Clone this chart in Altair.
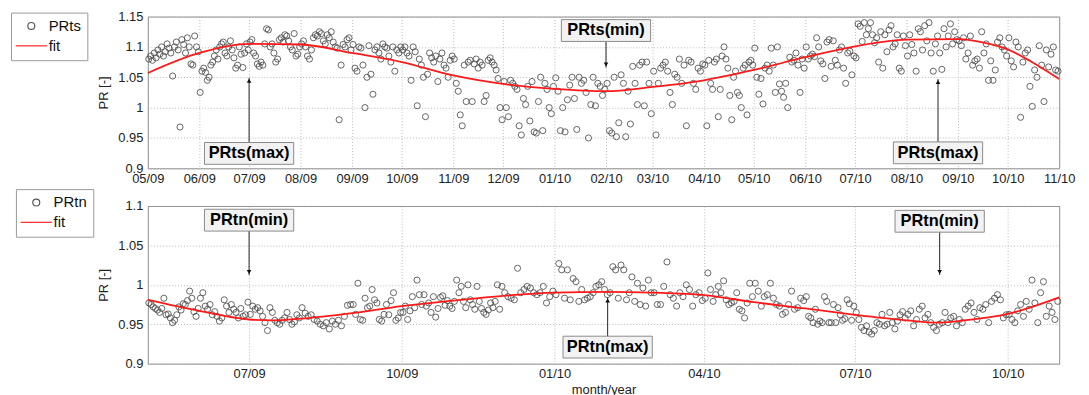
import altair as alt
import pandas as pd

months = ["2009-05", "2009-06", "2009-07", "2009-08", "2009-09", "2009-10",
          "2009-11", "2009-12", "2010-01", "2010-02", "2010-03", "2010-04",
          "2010-05", "2010-06", "2010-07", "2010-08", "2010-09", "2010-10"]

# PRts values read month by month (in the order they appear left to right)
prts = [
    [1.08, 1.085, 1.078, 1.09, 1.082, 1.095, 1.088, 1.10, 1.085, 1.092, 1.105, 1.098, 1.09, 1.052,
     1.10, 1.108, 1.095, 0.968, 1.112, 1.104, 1.09, 1.115, 1.10, 1.072, 1.07, 1.118, 1.10, 1.092],
    [1.025, 1.06, 1.065, 1.058, 1.045, 1.05, 1.07, 1.075, 1.085, 1.095, 1.08, 1.10, 1.105, 1.108,
     1.09, 1.085, 1.10, 1.11, 1.095, 1.082, 1.065, 1.07, 1.10, 1.088, 1.066, 1.09, 1.105, 1.095],
    [1.108, 1.112, 1.09, 1.085, 1.072, 1.068, 1.075, 1.07, 1.105, 1.13, 1.128, 1.10, 1.105, 1.09,
     1.075, 1.08, 1.112, 1.115, 1.108, 1.12, 1.118, 1.11, 1.10, 1.095, 1.122, 1.085, 1.088, 1.10],
    [1.105, 1.11, 1.10, 1.085, 1.08, 1.095, 1.115, 1.12, 1.118, 1.125, 1.122, 1.11, 1.105, 1.12,
     1.115, 1.125, 1.108, 1.10, 1.098, 0.98, 1.07, 1.104, 1.10, 1.112, 1.115, 1.095],
    [1.104, 1.065, 1.06, 1.10, 1.098, 1.07, 1.0, 1.05, 1.102, 1.055, 1.022, 1.095, 1.10, 1.09,
     1.08, 1.105, 1.10, 1.098, 1.085, 1.075, 1.10, 1.06, 1.095, 1.09, 1.10],
    [1.095, 1.10, 1.09, 1.085, 1.045, 1.10, 1.092, 1.003, 1.08, 1.07, 1.05, 0.985, 1.055, 1.09,
     1.082, 1.075, 1.085, 1.043, 1.08, 1.09, 1.07, 1.065, 1.05, 1.078, 1.085],
    [1.08, 1.04, 1.027, 0.988, 0.97, 1.07, 1.01, 1.075, 1.078, 1.01, 1.072, 1.08, 1.065, 1.075,
     1.07, 1.01, 1.02, 1.078, 1.082, 1.075, 1.07, 1.062, 1.048, 1.0, 0.98],
    [1.043, 1.0, 0.985, 1.045, 1.04, 1.035, 1.03, 0.97, 0.955, 1.015, 1.005, 1.035, 0.978, 1.043,
     0.96, 0.958, 1.01, 1.05, 0.962, 1.04, 1.03, 1.0, 0.99, 1.035],
    [1.049, 1.027, 0.962, 1.0, 0.96, 1.013, 1.037, 1.05, 1.015, 0.964, 1.05, 1.04, 1.045, 1.025,
     0.95, 1.005, 1.05, 1.003, 1.04, 1.035, 1.02, 1.03],
    [1.04, 0.962, 0.958, 1.05, 0.952, 0.975, 1.054, 1.04, 0.952, 1.027, 0.973, 1.068, 1.04, 1.005,
     1.07, 1.075, 1.003, 1.075, 1.04, 0.99],
    [1.06, 0.955, 1.04, 1.065, 1.07, 1.075, 1.06, 1.025, 1.005, 1.055, 1.05, 1.08, 1.04, 1.07,
     0.97, 1.078, 1.075, 1.04, 1.03, 1.065, 1.06, 1.072],
    [1.07, 0.97, 1.078, 1.04, 1.03, 1.075, 1.08, 0.985, 1.03, 1.085, 1.10, 1.08, 1.065, 1.02,
     0.98, 1.05, 1.06, 1.025, 1.02, 1.0, 1.065, 1.07, 0.988, 1.075, 1.078, 1.07],
    [1.098, 1.05, 1.022, 1.048, 1.006, 1.065, 1.07, 1.06, 1.098, 1.07, 1.025, 1.10, 1.039, 1.027,
     1.017, 1.04, 1.0, 1.083, 1.075, 1.078, 1.09, 1.07, 1.025, 1.08, 1.065],
    [1.10, 1.08, 1.085, 1.088, 1.084, 1.115, 1.10, 1.077, 1.072, 1.048, 1.108, 1.112, 1.068, 1.11,
     1.078, 1.07, 1.095, 1.10, 1.065, 1.04, 1.09, 1.093, 1.054, 1.085],
    [1.082, 1.138, 1.134, 1.109, 1.14, 1.12, 1.13, 1.14, 1.12, 1.107, 1.115, 1.075, 1.125, 1.065,
     1.12, 1.092, 1.128, 1.135, 1.10, 1.105, 1.12, 1.065, 1.06, 1.118, 1.102],
    [1.085, 1.12, 1.104, 1.09, 1.06, 1.13, 1.125, 1.095, 1.135, 1.11, 1.14, 1.09, 1.06, 1.105,
     1.118, 1.09, 1.063, 1.13, 1.10, 1.118, 1.138, 1.105, 1.125, 1.112],
    [1.11, 1.102, 1.115, 1.08, 1.09, 1.118, 1.07, 1.077, 1.08, 1.065, 1.125, 1.09, 1.105, 1.045,
     1.077, 1.045, 1.062, 1.108, 1.115, 1.10, 1.095, 1.085],
    [1.115, 1.077, 1.067, 1.108, 1.10, 0.984, 1.075, 1.09, 1.095, 1.035, 1.002, 1.062, 1.05, 1.102,
     1.07, 1.01, 1.095, 1.067, 1.088, 1.10, 1.062, 1.06],
]

# PRtn values read month by month
prtn = [
    [0.977, 0.975, 0.972, 0.97, 0.968, 0.965, 0.97, 0.983, 0.962, 0.963, 0.958, 0.952, 0.955, 0.962,
     0.972, 0.968, 0.976, 0.975, 0.98, 0.992, 0.983, 0.966, 0.96, 0.97],
    [0.983, 0.99, 0.973, 0.969, 0.975, 0.962, 0.966, 0.96, 0.954, 0.958, 0.981, 0.973, 0.965, 0.975,
     0.969, 0.965, 0.958, 0.97, 0.96, 0.962, 0.978],
    [0.9625, 0.973, 0.969, 0.971, 0.967, 0.96, 0.952, 0.942, 0.971, 0.965, 0.955, 0.952, 0.95, 0.955,
     0.958, 0.965, 0.956, 0.95, 0.953, 0.962, 0.958],
    [0.971, 0.964, 0.96, 0.962, 0.956, 0.954, 0.95, 0.948, 0.952, 0.944, 0.954, 0.95, 0.955, 0.948,
     0.96, 0.974, 0.975],
    [0.975, 0.9625, 1.002, 0.956, 0.955, 0.983, 0.971, 0.973, 0.994, 0.981, 0.977, 0.956, 0.954, 0.9625,
     0.975, 0.962, 0.98, 0.99, 0.955, 0.958, 0.965],
    [0.965, 0.973, 0.956, 0.967, 0.985, 0.971, 1.006, 0.9875, 0.975, 0.9875, 0.973, 0.977, 0.965, 0.985,
     0.959, 0.97, 0.984, 0.986, 0.974, 0.98, 0.973, 0.97],
    [0.979, 1.006, 0.99, 0.998, 0.979, 0.971, 1.0, 0.981, 0.975, 0.969, 0.998, 0.979, 0.97, 0.965,
     0.9625, 0.968, 0.977, 0.971, 0.979, 1.0, 0.969, 0.998],
    [0.99, 0.985, 0.983, 0.981, 1.021, 0.99, 0.994, 0.998, 0.996, 0.99, 0.9875, 0.99, 0.998, 0.977,
     0.985, 0.992],
    [0.9875, 1.027, 1.019, 0.983, 1.019, 0.981, 1.008, 1.004, 0.979, 0.994, 0.981, 0.983, 0.985, 0.99,
     0.998, 1.0, 1.004, 0.994],
    [0.9875, 0.99, 1.023, 1.019, 0.983, 1.025, 1.019, 0.981, 0.99, 1.01, 0.979, 1.002, 0.975, 0.996,
     0.973, 1.006, 0.99],
    [0.99, 0.975, 0.975, 0.998, 1.029, 0.9875, 0.983, 0.973, 0.99, 0.985, 1.0, 0.994, 0.973, 0.9875,
     0.99, 0.98],
    [0.983, 1.015, 0.994, 0.979, 0.9875, 0.998, 0.99, 1.005, 0.981, 0.975, 0.977, 0.979, 0.99, 0.969,
     0.967, 0.958, 0.977, 1.002, 0.985],
    [1.002, 0.992, 0.973, 0.985, 0.9875, 1.002, 0.983, 0.975, 0.973, 0.9625, 0.965, 0.975, 0.992, 0.969,
     0.971, 0.983, 0.98],
    [0.985, 0.96, 0.958, 0.952, 0.969, 0.95, 0.954, 0.952, 0.985, 0.979, 0.952, 0.952, 0.975, 0.952,
     0.971, 0.962, 0.955, 0.957, 0.981, 0.976, 0.955, 0.973],
    [0.965, 0.956, 0.946, 0.942, 0.948, 0.94, 0.9375, 0.942, 0.952, 0.95, 0.9625, 0.948, 0.95, 0.965,
     0.952, 0.944, 0.954, 0.962, 0.966, 0.958],
    [0.9625, 0.967, 0.948, 0.956, 0.969, 0.973, 0.958, 0.9625, 0.952, 0.946, 0.942, 0.95, 0.952, 0.965,
     0.952, 0.958, 0.96, 0.948],
    [0.956, 0.952, 0.969, 0.973, 0.977, 0.965, 0.956, 0.971, 0.969, 0.975, 0.952, 0.979, 0.983, 0.9875,
     0.981, 0.958, 0.962],
    [0.9625, 0.956, 0.952, 0.967, 0.975, 0.96, 0.979, 0.969, 1.006, 0.977, 0.952, 0.99, 1.004, 0.96,
     0.973, 0.965, 0.956, 0.979],
]

ts_fit_dates = ["2009-05-01", "2009-06-01", "2009-07-01", "2009-08-01", "2009-09-01", "2009-10-01",
                "2009-11-01", "2009-12-01", "2010-01-01", "2010-02-01", "2010-03-01", "2010-04-01",
                "2010-05-01", "2010-06-01", "2010-07-01", "2010-08-01", "2010-09-01", "2010-09-20",
                "2010-10-01", "2010-10-15", "2010-11-01"]
ts_fit = [1.057, 1.090, 1.105, 1.104, 1.090, 1.075, 1.053, 1.039, 1.031, 1.027, 1.034, 1.045,
          1.062, 1.083, 1.101, 1.112, 1.113, 1.105, 1.096, 1.076, 1.047]

tn_fit_dates = ["2009-05-01", "2009-06-01", "2009-07-01", "2009-07-15", "2009-08-01", "2009-09-01",
                "2009-10-01", "2009-11-01", "2009-12-01", "2010-01-01", "2010-02-01", "2010-03-01",
                "2010-04-01", "2010-05-01", "2010-06-01", "2010-07-01", "2010-08-01", "2010-08-20",
                "2010-09-01", "2010-10-01", "2010-11-01"]
tn_fit = [0.981, 0.967, 0.956, 0.955, 0.957, 0.964, 0.973, 0.980, 0.986, 0.990, 0.991, 0.990,
          0.987, 0.978, 0.970, 0.962, 0.955, 0.952, 0.954, 0.963, 0.984]

# annotations: anchor date, label, box centre value, arrow tip value, direction
ts_ann_dates = ["2009-07-01", "2010-02-01", "2010-08-20"]
ts_ann_labels = ["PRts(max)", "PRts(min)", "PRts(max)"]
ts_ann_box = [0.9245, 1.127, 0.9255]
ts_ann_tip = [1.049, 1.066, 1.047]
ts_ann_dir = ["up", "down", "up"]

tn_ann_dates = ["2009-07-01", "2010-02-02", "2010-08-21"]
tn_ann_labels = ["PRtn(min)", "PRtn(max)", "PRtn(min)"]
tn_ann_box = [1.082, 0.921, 1.0806]
tn_ann_tip = [1.0125, 0.984, 1.0125]
tn_ann_dir = ["down", "up", "down"]

top_xticks = months + ["2010-11"]
bottom_xticks = ["2009-07", "2009-10", "2010-01", "2010-04", "2010-07", "2010-10"]
top_yticks = [0.9, 0.95, 1.0, 1.05, 1.1, 1.15]
bottom_yticks = [0.9, 0.95, 1.0, 1.05, 1.1]

FONT = "Liberation Sans"
PT_COLOR = "#4d4d4d"
FIT_COLOR = "#ff1a1a"
LINE_PATH = "M-4.5,0L4.5,0"


def points_frame(vals_by_month, series):
    rows = []
    for m, vals in zip(months, vals_by_month):
        start = pd.Timestamp(m + "-01")
        nd = start.days_in_month
        n = len(vals)
        for i, v in enumerate(vals):
            rows.append({"date": start + pd.Timedelta(days=(i + 0.5) * nd / n), "PR": v, "series": series})
    return pd.DataFrame(rows)


def dt(s):
    y, m = s.split("-")[:2]
    return alt.DateTime(year=int(y), month=int(m), date=1)


def panel(pts_df, fit_dates, fit_vals, name, ydom, yticks, xticks, height,
          ann, legx, legy, xtitle):
    fit_df = pd.DataFrame({"date": pd.to_datetime(fit_dates), "PR": fit_vals, "series": "fit"})
    ann_df = pd.DataFrame({"date": pd.to_datetime(ann[0]), "label": ann[1], "yc": ann[2],
                           "tip": ann[3], "dir": ann[4]})
    xscale = alt.Scale(domain=[dt("2009-05"), dt("2010-11")])
    yscale = alt.Scale(domain=ydom, nice=False, zero=False)
    xaxis = alt.Axis(values=[dt(t) for t in xticks], format="%m/%y", labelFlush=False,
                     labelOverlap=False, labelPadding=4, title=xtitle if xtitle else None,
                     titlePadding=3)
    yaxis = alt.Axis(values=yticks, format=".2~f", title="PR [-]", labelPadding=5,
                     labelOverlap=False, labelFlush=False, titlePadding=7)

    def X(f):
        return alt.X(f, type="temporal", scale=xscale, axis=xaxis)

    def Y(f):
        return alt.Y(f, type="quantitative", scale=yscale, axis=yaxis)

    leg = alt.Legend(title=None, orient="none", legendX=legx, legendY=legy,
                     strokeColor="#9a9a9a", fillColor="white", padding=6,
                     labelFont=FONT, labelFontSize=15, labelColor="#111",
                     rowPadding=4, symbolSize=49, symbolStrokeWidth=1.2,
                     symbolFillColor="transparent", symbolOffset=7, labelOffset=10)
    color = alt.Color("series:N",
                      scale=alt.Scale(domain=[name, "fit"], range=[PT_COLOR, FIT_COLOR]),
                      legend=leg)
    shape = alt.Shape("series:N",
                      scale=alt.Scale(domain=[name, "fit"], range=["circle", LINE_PATH]),
                      legend=leg)
    pts = alt.Chart(pts_df).mark_point(filled=False, size=38, strokeWidth=0.9, opacity=0.95).encode(
        x=X("date"), y=Y("PR"), color=color, shape=shape)
    line = alt.Chart(fit_df).mark_line(strokeWidth=1.8, interpolate="monotone").encode(
        x=X("date"), y=Y("PR"), color=color)
    base = alt.Chart(ann_df)
    rule = base.mark_rule(color="#222", strokeWidth=1).encode(
        x=X("date"), y=Y("yc"), y2="tip:Q")
    box = base.mark_rect(fill="#f2f2f2", stroke="#8a8a8a", strokeWidth=1,
                         xOffset=-45, x2Offset=45, yOffset=-11, y2Offset=11).encode(
        x=X("date"), x2="date:T", y=Y("yc"), y2="yc:Q")
    txt = base.mark_text(font=FONT, fontSize=16.5, fontWeight="bold", color="#000").encode(
        x=X("date"), y=Y("yc"), text="label:N")
    up = base.transform_filter("datum.dir === 'up'").mark_point(
        shape="triangle-up", filled=True, size=22, color="#111", opacity=1, yOffset=3).encode(
        x=X("date"), y=Y("tip"))
    down = base.transform_filter("datum.dir === 'down'").mark_point(
        shape="triangle-down", filled=True, size=22, color="#111", opacity=1, yOffset=-3).encode(
        x=X("date"), y=Y("tip"))
    return alt.layer(pts, line, rule, box, txt, up, down).properties(width=919, height=height)


top = panel(points_frame(prts, "PRts"), ts_fit_dates, ts_fit, "PRts", [0.9, 1.15], top_yticks,
            top_xticks, 153,
            (ts_ann_dates, ts_ann_labels, ts_ann_box, ts_ann_tip, ts_ann_dir), -138, -4, None)
bottom = panel(points_frame(prtn, "PRtn"), tn_fit_dates, tn_fit, "PRtn", [0.9, 1.1], bottom_yticks,
               bottom_xticks, 159,
               (tn_ann_dates, tn_ann_labels, tn_ann_box, tn_ann_tip, tn_ann_dir), -133, -17,
               "month/year")

chart = alt.vconcat(top, bottom, spacing=2).resolve_scale(
    color="independent", shape="independent", y="independent", x="independent"
).resolve_legend(color="independent", shape="independent").properties(
    padding={"left": 2, "top": 0, "right": 5, "bottom": 0},
    background="white",
).configure_view(stroke="#8c8c8c", strokeWidth=1).configure_axis(
    grid=True, gridDash=[1, 2], gridColor="#a8a8a8", gridWidth=0.8, ticks=False, domain=False,
    labelFont=FONT, labelFontSize=13, labelColor="#222", titleFont=FONT, titleFontSize=13,
    titleFontWeight="normal", titleColor="#222"
)

chart.save("out.html", embed_options={"renderer": "svg", "actions": False})
